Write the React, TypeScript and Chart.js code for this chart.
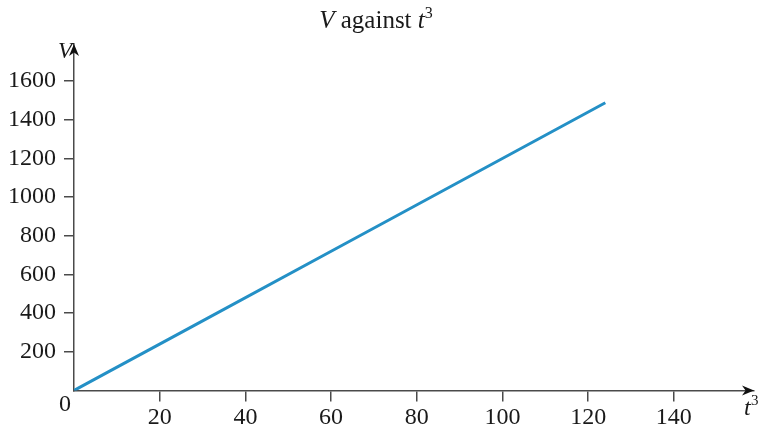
import React, { useEffect, useRef } from "react";
import { Chart, registerables } from "chart.js";

Chart.register(...registerables);

// Data
const tCubed: number[] = [0, 1, 8, 27, 64, 124];
const volume: number[] = [0, 12, 96, 324, 768, 1488];
const xTickValues: number[] = [20, 40, 60, 80, 100, 120, 140];
const yTickValues: number[] = [200, 400, 600, 800, 1000, 1200, 1400, 1600];

const AXIS_COLOR = "#4a4a4a";
const LINE_COLOR = "#2490c6";
const TEXT_COLOR = "#1a1a1a";
const SERIF = "'Liberation Serif', 'Times New Roman', serif";

const decorPlugin = {
  id: "decor",
  afterDraw(chart: any) {
    const { ctx, chartArea, scales } = chart;
    const xs = scales.x;
    const ys = scales.y;
    const ox = xs.getPixelForValue(0);
    const oy = ys.getPixelForValue(0);
    ctx.save();
    ctx.fillStyle = "#111";

    const drawArrow = (tx: number, ty: number, dx: number, dy: number) => {
      const len = 12;
      const half = 5;
      const px = -dy;
      const py = dx;
      ctx.beginPath();
      ctx.moveTo(tx, ty);
      ctx.lineTo(tx - dx * len + px * half, ty - dy * len + py * half);
      ctx.lineTo(tx - dx * len * 0.7, ty - dy * len * 0.7);
      ctx.lineTo(tx - dx * len - px * half, ty - dy * len - py * half);
      ctx.closePath();
      ctx.fill();
    };
    drawArrow(chartArea.right, oy, 1, 0);
    drawArrow(ox, chartArea.top, 0, -1);

    ctx.fillStyle = TEXT_COLOR;
    ctx.textBaseline = "alphabetic";

    // origin label
    ctx.font = `24px ${SERIF}`;
    ctx.textAlign = "right";
    ctx.fillText("0", ox - 3, oy + 20);

    // V axis label
    ctx.font = `italic 23px ${SERIF}`;
    ctx.textAlign = "left";
    ctx.fillText("V", ox - 16, chartArea.top + 14);

    // t^3 axis label
    ctx.font = `italic 24px ${SERIF}`;
    ctx.fillText("t", chartArea.right - 10, oy + 24);
    ctx.font = `15px ${SERIF}`;
    ctx.fillText("3", chartArea.right - 3, oy + 14);

    // title: V against t^3
    const parts = [
      { text: "V", font: `italic 25px ${SERIF}`, dy: 0 },
      { text: " against ", font: `25px ${SERIF}`, dy: 0 },
      { text: "t", font: `italic 25px ${SERIF}`, dy: 0 },
      { text: "3", font: `16px ${SERIF}`, dy: -10 },
    ];
    let total = 0;
    for (const p of parts) {
      ctx.font = p.font;
      total += ctx.measureText(p.text).width;
    }
    let x = 376 - total / 2;
    const baseY = 28;
    for (const p of parts) {
      ctx.font = p.font;
      ctx.fillText(p.text, x, baseY + p.dy);
      x += ctx.measureText(p.text).width;
    }
    ctx.restore();
  },
};

export default function App() {
  const canvasRef = useRef<HTMLCanvasElement | null>(null);

  useEffect(() => {
    if (!canvasRef.current) return;
    const chart = new Chart(canvasRef.current, {
      type: "line",
      data: {
        datasets: [
          {
            data: tCubed.map((t, i) => ({ x: t, y: volume[i] })),
            borderColor: LINE_COLOR,
            borderWidth: 3,
            pointRadius: 0,
            tension: 0,
            fill: false,
          },
        ],
      },
      options: {
        responsive: false,
        animation: false,
        layout: { padding: { top: 44, right: 4, left: 0, bottom: 0 } },
        plugins: { legend: { display: false }, tooltip: { enabled: false }, title: { display: false } },
        scales: {
          x: {
            type: "linear",
            min: 0,
            max: 158.7,
            afterBuildTicks: (scale: any) => {
              scale.ticks = xTickValues.map((v) => ({ value: v }));
            },
            afterFit: (scale: any) => {
              scale.height = 40.5;
            },
            border: { display: true, color: AXIS_COLOR, width: 1.5 },
            grid: { drawOnChartArea: false, drawTicks: true, tickLength: 11, color: AXIS_COLOR, lineWidth: 1.5 },
            ticks: {
              color: TEXT_COLOR,
              font: { family: SERIF, size: 24 },
              padding: 2,
              maxRotation: 0,
              autoSkip: false,
              callback: (v: any) => String(v),
            },
          },
          y: {
            type: "linear",
            min: 0,
            max: 1792,
            afterBuildTicks: (scale: any) => {
              scale.ticks = yTickValues.map((v) => ({ value: v }));
            },
            afterFit: (scale: any) => {
              scale.width = 74;
            },
            border: { display: true, color: AXIS_COLOR, width: 1.5 },
            grid: { drawOnChartArea: false, drawTicks: true, tickLength: 10, color: AXIS_COLOR, lineWidth: 1.5 },
            ticks: {
              color: TEXT_COLOR,
              font: { family: SERIF, size: 24 },
              padding: 8,
              autoSkip: false,
              callback: (v: any) => String(v),
            },
          },
        },
      },
      plugins: [decorPlugin],
    } as any);
    return () => chart.destroy();
  }, []);

  return (
    <div style={{ position: "fixed", left: 0, top: 0, width: 758, height: 431, background: "#fff" }}>
      <canvas ref={canvasRef} width={758} height={431} style={{ width: 758, height: 431 }} />
    </div>
  );
}
